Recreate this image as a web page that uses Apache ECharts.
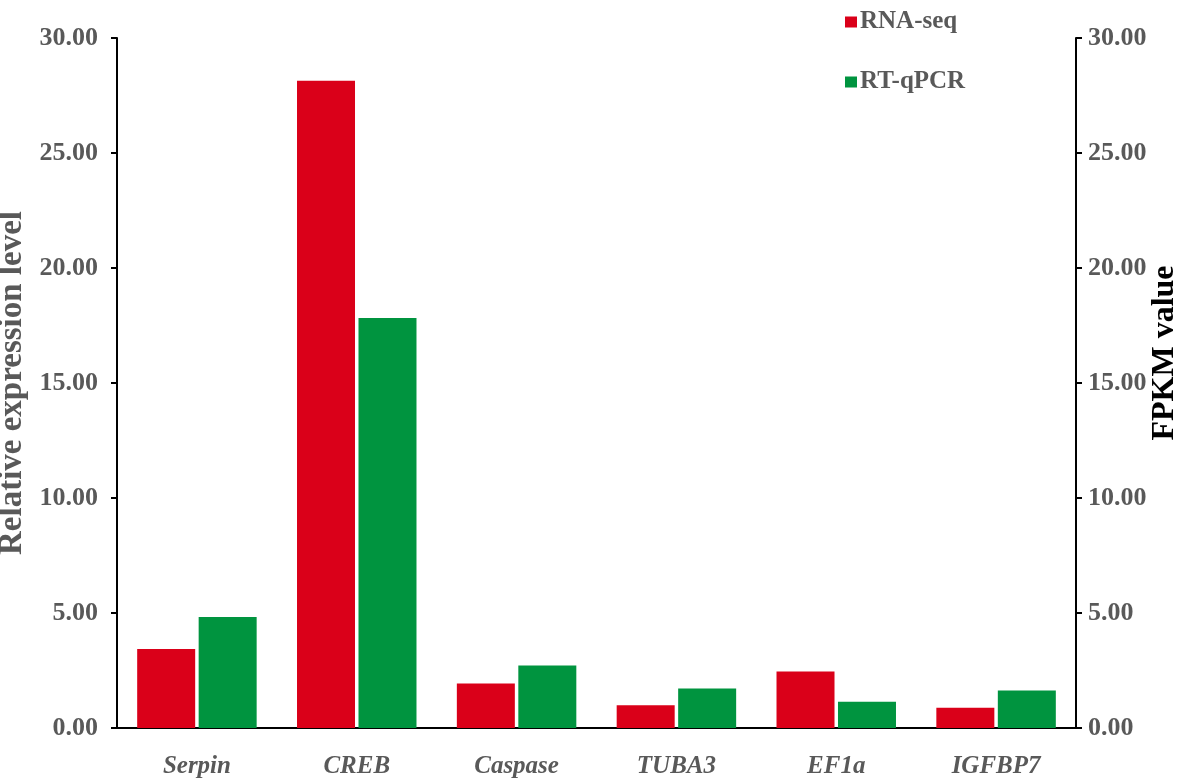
<!DOCTYPE html>
<html>
<head>
<meta charset="utf-8">
<script src="https://cdn.jsdelivr.net/npm/echarts@6/dist/echarts.min.js"></script>
<style>
html,body{margin:0;padding:0;background:#fff;}
#chart{width:1188px;height:783px;}
</style>
</head>
<body>
<div id="chart"></div>
<script>
const categories = ['Serpin', 'CREB', 'Caspase', 'TUBA3', 'EF1a', 'IGFBP7'];
const rnaSeq = [3.43, 28.14, 1.93, 0.99, 2.46, 0.88];
const rtqPCR = [4.83, 17.83, 2.72, 1.72, 1.14, 1.63];
const seriesNames = ['RNA-seq', 'RT-qPCR'];
const leftTitle = 'Relative expression level';
const rightTitle = 'FPKM value';

const FONT = '"Liberation Serif", "Times New Roman", serif';
const GRAY = '#595959';

const chart = echarts.init(document.getElementById('chart'), null, {renderer: 'canvas'});

const yCommon = {
  type: 'value',
  min: 0,
  max: 30,
  interval: 5,
  splitLine: {show: false},
  axisLine: {show: true, lineStyle: {color: '#000', width: 2}},
  axisTick: {show: true, inside: false, length: 6, lineStyle: {color: '#000', width: 2}},
  nameLocation: 'middle',
  nameMoveOverlap: false
};

chart.setOption({
  backgroundColor: '#fff',
  animation: false,
  textStyle: {fontFamily: FONT},
  grid: {left: 117, right: 112, top: 38, bottom: 55, containLabel: false, outerBoundsMode: 'none'},
  legend: {
    data: seriesNames,
    orient: 'vertical',
    left: 840,
    top: 3,
    icon: 'rect',
    itemWidth: 12,
    itemHeight: 11,
    itemGap: 32,
    textStyle: {fontFamily: FONT, fontWeight: 'bold', fontSize: 25, color: GRAY, lineHeight: 28, padding: [0, 0, 0, -2]}
  },
  xAxis: {
    type: 'category',
    data: categories,
    axisLine: {show: true, lineStyle: {color: '#000', width: 2}},
    axisTick: {show: false},
    axisLabel: {
      margin: 26,
      fontFamily: FONT,
      fontStyle: 'italic',
      fontWeight: 'bold',
      fontSize: 25,
      color: GRAY
    }
  },
  yAxis: [
    Object.assign({}, yCommon, {
      position: 'left',
      name: leftTitle,
      nameGap: 88,
      nameTextStyle: {fontFamily: FONT, fontWeight: 'bold', fontSize: 33, color: GRAY},
      axisLabel: {
        margin: 19,
        fontFamily: FONT,
        fontWeight: 'bold',
        fontSize: 26,
        color: GRAY,
        formatter: v => v.toFixed(2)
      }
    }),
    Object.assign({}, yCommon, {
      position: 'right',
      name: rightTitle,
      nameGap: 73,
      nameTextStyle: {fontFamily: FONT, fontWeight: 'bold', fontSize: 32, color: '#000', padding: [0, 0, 0, 60]},
      axisLabel: {
        margin: 12,
        fontFamily: FONT,
        fontWeight: 'bold',
        fontSize: 26,
        color: GRAY,
        formatter: v => v.toFixed(2)
      }
    })
  ],
  series: [
    {
      name: seriesNames[0],
      type: 'bar',
      yAxisIndex: 0,
      data: rnaSeq,
      barWidth: 58,
      barGap: '6%',
      itemStyle: {color: '#DA0019'}
    },
    {
      name: seriesNames[1],
      type: 'bar',
      yAxisIndex: 0,
      data: rtqPCR,
      barWidth: 58,
      barGap: '6%',
      itemStyle: {color: '#00943F'}
    }
  ]
});
</script>
</body>
</html>
